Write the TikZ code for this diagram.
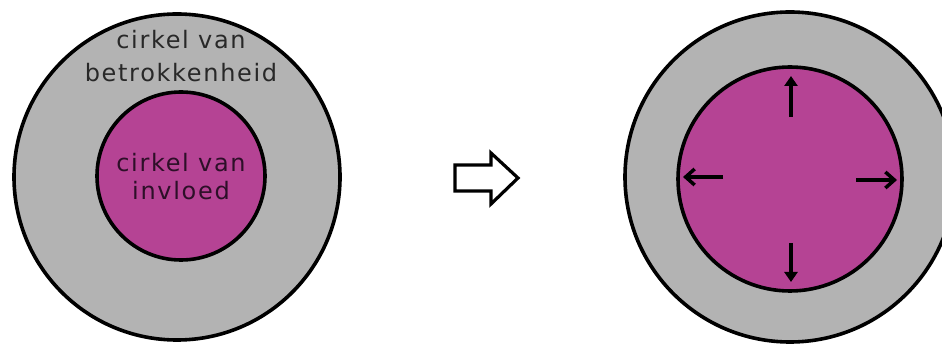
\documentclass[tikz,border=0pt]{standalone}
\usepackage{fontspec}
\setmainfont{DejaVu Sans}[LetterSpace=7]
\usetikzlibrary{arrows.meta,calc}
\definecolor{ringgrey}{RGB}{179,179,179}
\definecolor{inflmag}{RGB}{181,67,148}
\definecolor{outtxt}{RGB}{40,40,40}
\definecolor{intxt}{RGB}{45,15,40}
\begin{document}
\begin{tikzpicture}[x=1pt,y=-1pt,
  ring/.style={circle,draw=black,line width=3.6pt,fill=ringgrey,inner sep=0pt},
  infl/.style={circle,draw=black,line width=3.6pt,fill=inflmag,inner sep=0pt},
  lbl/.style={anchor=base,inner sep=0pt,font=\fontsize{24}{31}\selectfont},
  growv/.style={line width=3.5pt,-{Triangle[length=10pt,width=13pt]}},
  growh/.style={line width=3.5pt,-{Straight Barb[length=9pt,width=16pt,line width=3.5pt]}},
  hollow/.style={draw=black,line width=3.2pt,fill=white,line join=miter}]
\clip (0,0) rectangle (942,344);
\fill[white] (0,0) rectangle (942,344);
% left
\node[ring,minimum size=326pt] (outL) at (177,177) {};
\node[infl,minimum size=168pt] (inL) at (181,176) {};
\node[lbl,text=outtxt] (t1) at (181,49) {cirkel van};
\node[lbl,text=outtxt] (t2) at (181,82) {betrokkenheid};
\node[lbl,text=intxt] (t3) at (181,172) {cirkel van};
\node[lbl,text=intxt] (t4) at (181,200) {invloed};
% middle hollow arrow
\draw[hollow] (455,165) -- (491,165) -- (491,153) -- (518,178) -- (491,204) -- (491,191) -- (455,191) -- cycle;
% right
\node[ring,minimum size=330pt] (outR) at (790,177) {};
\node[infl,minimum size=224pt] (inR) at (790,179) {};
\coordinate (uS) at ($(inR)+(1,-62)$);
\coordinate (uE) at ($(inR)+(1,-103)$);
\coordinate (dS) at ($(inR)+(1,64)$);
\coordinate (dE) at ($(inR)+(1,103)$);
\coordinate (lS) at ($(inR)+(-67,-2)$);
\coordinate (lE) at ($(inR)+(-107,-2)$);
\coordinate (rS) at ($(inR)+(66,1)$);
\coordinate (rE) at ($(inR)+(107,1)$);
\draw[growv] (uS) -- (uE);
\draw[growv] (dS) -- (dE);
\draw[growh] (lS) -- (lE);
\draw[growh] (rS) -- (rE);
\end{tikzpicture}
\end{document}
